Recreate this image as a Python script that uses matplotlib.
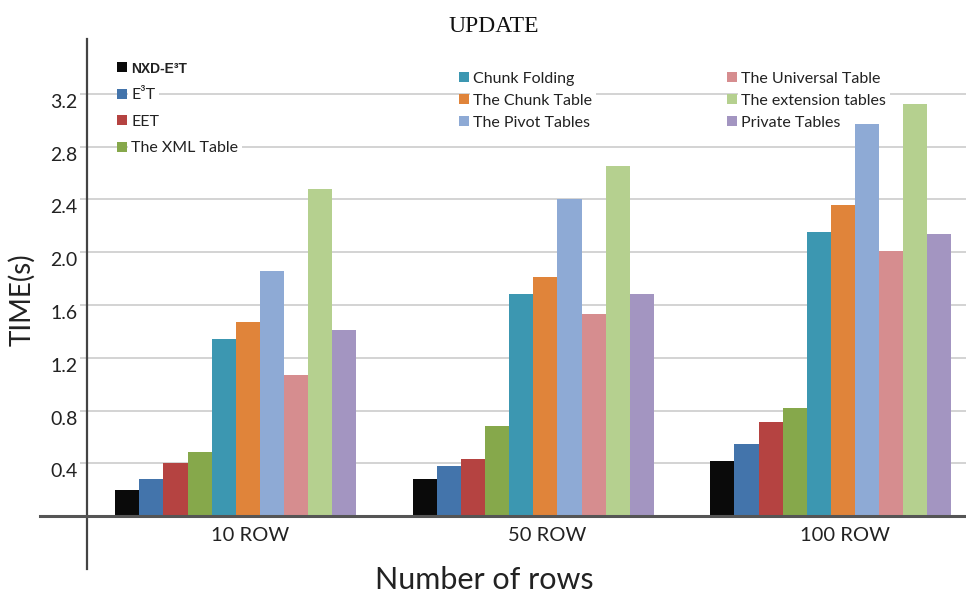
import matplotlib
matplotlib.use('Agg')
import matplotlib.pyplot as plt
import numpy as np
from matplotlib.patches import Patch
from matplotlib.transforms import ScaledTranslation

# ---------------- data ----------------
categories = ['10 ROW', '50 ROW', '100 ROW']
series_names = ['NXD-E³T', 'E³T', 'EET', 'The XML Table', 'Chunk Folding',
                'The Chunk Table', 'The Pivot Tables', 'The Universal Table',
                'The extension tables', 'Private Tables']
nxd_e3t = [0.20, 0.28, 0.42]
e3t = [0.28, 0.38, 0.55]
eet = [0.40, 0.43, 0.71]
xml_table = [0.49, 0.68, 0.82]
chunk_folding = [1.34, 1.68, 2.15]
chunk_table = [1.47, 1.81, 2.36]
pivot_tables = [1.86, 2.40, 2.97]
universal_table = [1.07, 1.53, 2.01]
extension_tables = [2.48, 2.65, 3.12]
private_tables = [1.41, 1.68, 2.14]
y_ticks = [0.4, 0.8, 1.2, 1.6, 2.0, 2.4, 2.8, 3.2]
y_tick_labels = ['0.4', '0.8', '1.2', '1.6', '2.0', '2.4', '2.8', '3.2']

series_values = [nxd_e3t, e3t, eet, xml_table, chunk_folding, chunk_table,
                 pivot_tables, universal_table, extension_tables, private_tables]
colors = ['#0a0a0a', '#4374ab', '#b54341', '#86a84b', '#3c97b1', '#e0843a',
          '#8eaad5', '#d68d8f', '#b5d08f', '#a395c1']

FONT = 'Lato'
W, H = 966, 596
fig = plt.figure(figsize=(W / 100, H / 100), dpi=100)
ax_left, ax_right, ax_top, ax_bottom = 87, 966, 39, 569
ax = fig.add_axes([ax_left / W, 1 - ax_bottom / H, (ax_right - ax_left) / W,
                   (ax_bottom - ax_top) / H])

n = len(series_values)
bw = 0.081
x = np.arange(len(categories))
for j, (vals, col) in enumerate(zip(series_values, colors)):
    ax.bar(x + (j - (n - 1) / 2) * bw, vals, width=bw, color=col, zorder=3,
           linewidth=0)

ax.set_xlim(-0.5, 2.454)
ax.set_ylim(-0.4, 3.615)

# spines
for s in ['top', 'right', 'bottom']:
    ax.spines[s].set_visible(False)
ax.spines['left'].set_color('#444444')
ax.spines['left'].set_linewidth(1.6)

# baseline at zero, extending left of the axis
ax.axhline(0, xmin=-(ax_left - 40) / (ax_right - ax_left), xmax=1,
           color='#555555', lw=2.2, clip_on=False, zorder=4)

# grid + y ticks
ax.set_yticks(y_ticks)
ax.set_yticklabels(y_tick_labels, fontsize=14, family=FONT, color='#222222')
ax.yaxis.grid(True, color='#cccccc', lw=1.2)
ax.set_axisbelow(True)
ax.tick_params(axis='y', length=5, width=1.2, color='#cccccc', pad=2)
for lbl in ax.get_yticklabels():
    lbl.set_transform(lbl.get_transform() +
                      ScaledTranslation(0, -0.07, fig.dpi_scale_trans))

# x categories
ax.set_xticks([])
for i, c in enumerate(categories):
    ax.annotate(c, xy=(x[i], 0), xytext=(10, -8), textcoords='offset points',
                ha='center', va='top', fontsize=14.5, family=FONT, color='#222222')

ax.set_xlabel('Number of rows', fontsize=22, family=FONT, color='#222222', va='top')
ax.xaxis.set_label_coords((484 - ax_left) / (ax_right - ax_left), 0.005)
ax.set_ylabel('TIME(s)', fontsize=20, family=FONT, color='#222222', va='center')
ax.yaxis.set_label_coords((22 - ax_left) / (ax_right - ax_left),
                          (ax_bottom - 300) / (ax_bottom - ax_top))

fig.text(494 / W, 1 - 26 / H, 'UPDATE', ha='center', va='center',
         family='Liberation Serif', fontsize=17, color='#111111')

# legends (three columns)
handles = [Patch(facecolor=c, edgecolor='none') for c in colors]
groups = [(range(0, 4), 117, 62, 0.78), (range(4, 7), 459, 72, 0.5),
          (range(7, 10), 727, 72, 0.5)]
for idx, lx, ly, sp in groups:
    leg = ax.legend([handles[k] for k in idx], [series_names[k] for k in idx],
                    loc='upper left', bbox_to_anchor=(lx / W, 1 - ly / H),
                    bbox_transform=fig.transFigure, frameon=False,
                    prop={'family': FONT, 'size': 11.5}, handlelength=0.6,
                    handleheight=0.6, handletextpad=0.3, labelspacing=sp,
                    borderpad=0, borderaxespad=0)
    for k, t in zip(idx, leg.get_texts()):
        t.set_color('#222222')
        t.set_bbox(dict(facecolor='white', edgecolor='none', pad=2.5))
        if k == 0:
            t.set_fontweight('bold')
            t.set_family('Liberation Sans')
            t.set_fontsize(10)
    leg.set_zorder(6)
    ax.add_artist(leg)

fig.savefig('out.png', dpi=100)
